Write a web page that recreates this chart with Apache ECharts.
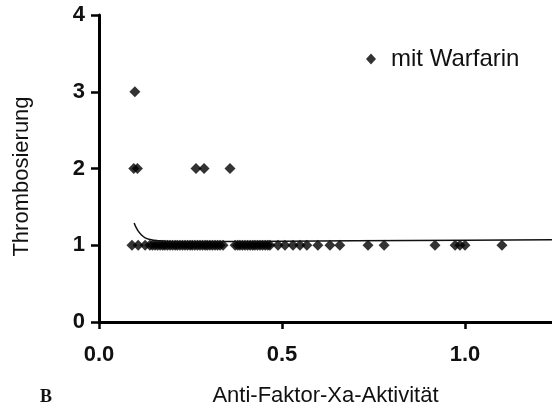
<!DOCTYPE html>
<html>
<head>
<meta charset="utf-8">
<script src="https://cdn.jsdelivr.net/npm/echarts@6/dist/echarts.min.js"></script>
<style>html,body{margin:0;padding:0;background:#fff}#c{width:552px;height:411px}</style>
</head>
<body>
<div id="c"></div>
<script>
// Scatter points: Anti-Faktor-Xa-Aktivität (x) and Thrombosierung (y)
const pointsX = [
  0.098,
  0.095, 0.105, 0.265, 0.287, 0.358,
  0.090, 0.107, 0.126, 0.139, 0.146, 0.153, 0.160, 0.167, 0.174, 0.180, 0.187, 0.194, 0.201,
  0.208, 0.214, 0.221, 0.228, 0.235, 0.242, 0.249, 0.255, 0.262, 0.269, 0.276, 0.283, 0.290,
  0.296, 0.303, 0.310, 0.317, 0.324, 0.331, 0.339, 0.372, 0.379, 0.385, 0.392, 0.399, 0.406,
  0.413, 0.420, 0.426, 0.433, 0.440, 0.447, 0.454, 0.461, 0.467, 0.489, 0.508, 0.530, 0.549,
  0.568, 0.598, 0.631, 0.658, 0.735, 0.779, 0.918, 0.973, 0.986, 1.000, 1.101
];
const pointsY = [
  3,
  2, 2, 2, 2, 2,
  1, 1, 1, 1, 1, 1, 1, 1, 1, 1, 1, 1, 1,
  1, 1, 1, 1, 1, 1, 1, 1, 1, 1, 1, 1, 1,
  1, 1, 1, 1, 1, 1, 1, 1, 1, 1, 1, 1, 1,
  1, 1, 1, 1, 1, 1, 1, 1, 1, 1, 1, 1, 1,
  1, 1, 1, 1, 1, 1, 1, 1, 1, 1, 1
];
// Fitted curve
const curveX = [0.096, 0.105, 0.115, 0.125, 0.14, 0.16, 0.2, 0.3, 0.5, 0.7, 1.0, 1.24];
const curveY = [1.29, 1.20, 1.14, 1.10, 1.075, 1.06, 1.05, 1.048, 1.052, 1.058, 1.066, 1.072];
const xTicks = [0, 0.5, 1.0];
const yTicks = [0, 1, 2, 3, 4];
const seriesName = 'mit Warfarin';
const xName = 'Anti-Faktor-Xa-Aktivität';
const yName = 'Thrombosierung';

const chart = echarts.init(document.getElementById('c'), null, {renderer: 'canvas'});
const fontFam = '"Liberation Sans", Arial, Helvetica, sans-serif';
chart.setOption({
  animation: false,
  backgroundColor: '#fff',
  grid: {left: 99, right: 0, top: 15, bottom: 89, containLabel: false, outerBoundsMode: 'none'},
  legend: {
    data: [seriesName],
    left: 361, top: 42,
    icon: 'diamond', itemWidth: 10, itemHeight: 11,
    textStyle: {fontFamily: fontFam, fontSize: 24, color: '#111', padding: [0, 0, 0, 10]}
  },
  xAxis: {
    type: 'value', min: 0, max: 1.2377, interval: 0.5,
    name: xName, nameLocation: 'middle', nameGap: 63,
    nameTextStyle: {fontFamily: fontFam, fontSize: 22, color: '#111'},
    axisLine: {show: true, lineStyle: {color: '#000', width: 3}},
    axisTick: {show: true, length: 7, lineStyle: {color: '#000', width: 2.5}},
    axisLabel: {
      fontFamily: fontFam, fontSize: 22, fontWeight: 'bold', color: '#111', margin: 22,
      showMaxLabel: false,
      formatter: v => xTicks.some(t => Math.abs(t - v) < 1e-9) ? v.toFixed(1) : ''
    },
    splitLine: {show: false}
  },
  yAxis: {
    type: 'value', min: 0, max: 4, interval: 1,
    name: yName, nameLocation: 'middle', nameGap: 66,
    nameTextStyle: {fontFamily: fontFam, fontSize: 22, color: '#111', padding: [0, 16, 0, 0]},
    axisLine: {show: true, lineStyle: {color: '#000', width: 3}},
    axisTick: {show: true, length: 8, lineStyle: {color: '#000', width: 2.5}},
    axisLabel: {
      fontFamily: fontFam, fontSize: 22, fontWeight: 'bold', color: '#111', margin: 14,
      formatter: v => yTicks.includes(v) ? String(v) : ''
    },
    splitLine: {show: false}
  },
  graphic: [{
    type: 'text', left: 40, top: 388,
    style: {text: 'B', font: 'bold 18px "Liberation Serif", "Times New Roman", serif', fill: '#111'}
  }],
  series: [
    {
      name: 'Kurve', type: 'line', smooth: true, symbol: 'none',
      data: curveX.map((x, i) => [x, curveY[i]]),
      lineStyle: {color: '#111', width: 1.5}, z: 3
    },
    {
      name: seriesName, type: 'scatter', symbol: 'diamond', symbolSize: [11, 11],
      data: pointsX.map((x, i) => [x, pointsY[i]]),
      itemStyle: {color: '#000'}, z: 2
    }
  ]
});
</script>
</body>
</html>
